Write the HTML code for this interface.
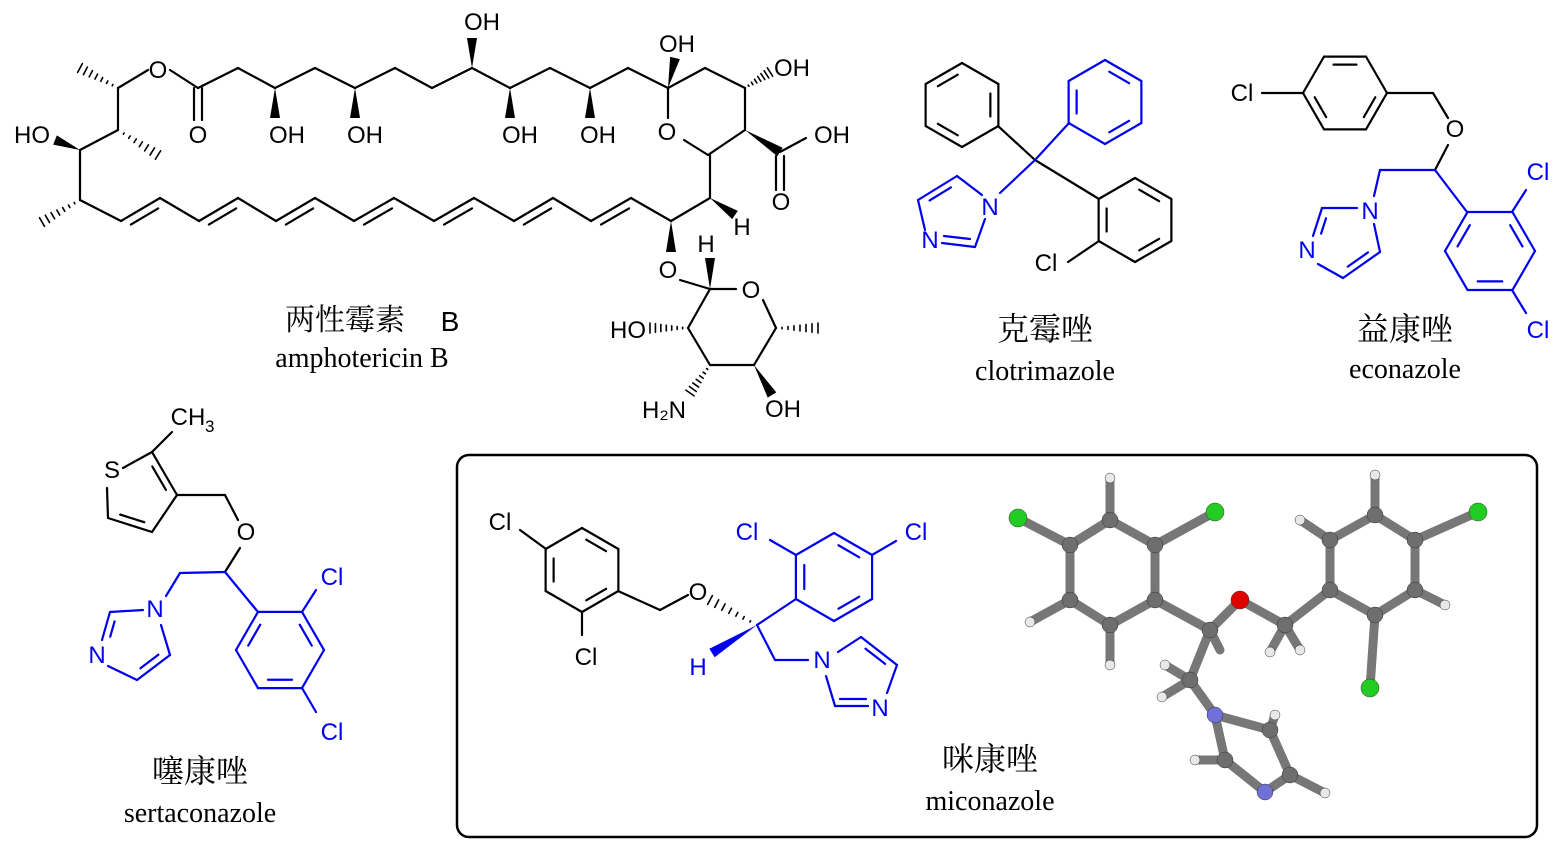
<!DOCTYPE html>
<html><head><meta charset="utf-8"><style>
html,body{margin:0;padding:0;background:#fff}
svg{display:block}
text{font-family:"Liberation Sans","Noto Sans CJK SC",sans-serif}
.s{font-family:"Liberation Serif","Noto Serif CJK SC",serif}
</style></head><body>
<svg id="g" width="1559" height="852" viewBox="0 0 1559 852" xmlns="http://www.w3.org/2000/svg">
<rect x="457" y="455" width="1080" height="382" rx="12" fill="none" stroke="#000" stroke-width="2.5"/>
</svg>
<script>
const svg=document.getElementById('g');const NS='http://www.w3.org/2000/svg';
function el(n,a,t){const e=document.createElementNS(NS,n);for(const k in a)e.setAttribute(k,a[k]);if(t!==undefined)e.textContent=t;svg.appendChild(e);return e;}
const K='#000',B='#0000ee';
function L(x1,y1,x2,y2,c,w){el('line',{x1,y1,x2,y2,stroke:c||K,'stroke-width':w||2.2,'stroke-linecap':'round'});}
function P(pts,c){for(let i=0;i<pts.length-1;i++)L(pts[i][0],pts[i][1],pts[i+1][0],pts[i+1][1],c);}
function T(x,y,s,sz,c,cls){el('text',{x,y,'font-size':sz||24,fill:c||K,'text-anchor':'middle',class:cls||''},s);}
// inner double line toward point (cx,cy)
function DI(a,b,cx,cy,c){const f=0.78,g=0.15;const ax=cx+(a[0]-cx)*f,ay=cy+(a[1]-cy)*f,bx=cx+(b[0]-cx)*f,by=cy+(b[1]-cy)*f;
 L(ax+(bx-ax)*g,ay+(by-ay)*g,bx-(bx-ax)*g,by-(by-ay)*g,c);}
function wedge(x1,y1,x2,y2,c){const dx=x2-x1,dy=y2-y1,l=Math.hypot(dx,dy),nx=-dy/l*5,ny=dx/l*5;
 el('polygon',{points:`${x1},${y1} ${x2+nx},${y2+ny} ${x2-nx},${y2-ny}`,fill:c||K});}
function hash(x1,y1,x2,y2,c){const dx=x2-x1,dy=y2-y1,l=Math.hypot(dx,dy),nx=-dy/l,ny=dx/l;
 for(let i=1;i<=7;i++){const t=i/7,w=5*t;L(x1+dx*t-nx*w,y1+dy*t-ny*w,x1+dx*t+nx*w,y1+dy*t+ny*w,c,1.6);}}
function ring(cx,cy,r,n,rot,c,dbl){const v=[];for(let i=0;i<n;i++){const a=rot+i*2*Math.PI/n;v.push([cx+r*Math.cos(a),cy+r*Math.sin(a)]);}
 for(let i=0;i<n;i++)L(v[i][0],v[i][1],v[(i+1)%n][0],v[(i+1)%n][1],c);
 (dbl||[]).forEach(i=>DI(v[i],v[(i+1)%n],cx,cy,c));return v;}
const PI=Math.PI;
// ===== Amphotericin B =====
P([[118,130],[118,88],[148,70]]);hash(118,88,80,68);T(158,78,'O',24);
P([[170,70],[198,88],[238,68],[275,88],[315,68],[355,88],[395,68],[432,88],[472,68],[510,88],[550,68],[590,88],[628,68],[668,88],[705,68],[745,88],[745,130],[708,155],[684,140]]);
L(668,88,668,118);T(667,140,'O',24);
L(194,88,194,120);L(202,88,202,120);T(198,143,'O',24);
wedge(275,88,275,118);T(287,143,'OH',24);wedge(355,88,355,118);T(365,143,'OH',24);
wedge(472,68,472,38);T(482,30,'OH',24);wedge(510,88,510,118);T(520,143,'OH',24);wedge(590,88,590,118);T(598,143,'OH',24);
wedge(668,88,675,58);T(677,52,'OH',24);hash(745,88,770,72);T(792,76,'OH',24);
wedge(745,130,780,152);P([[780,152],[806,138]]);T(832,143,'OH',24);L(776,156,776,190);L(784,156,784,190);T(781,210,'O',24);
T(32,143,'HO',24);wedge(80,150,55,140);P([[80,150],[118,130]]);hash(118,130,158,155);
P([[80,150],[80,200],[121,221]]);hash(80,200,42,222);
let poly=[[121,221],[160,198],[199,221],[238,198],[276,221],[315,198],[354,221],[394,198],[434,221],[474,198],[514,221],[553,198],[591,221],[631,198],[671,221]];
P(poly);for(let i=0;i<14;i+=2){const a=poly[i],b=poly[i+1];const dx=b[0]-a[0],dy=b[1]-a[1];L(a[0]+dx*.15+4,a[1]+dy*.15+7,b[0]-dx*.15+4,b[1]-dy*.15+7);}
P([[671,221],[710,198],[710,155]]);wedge(710,198,735,215);T(742,235,'H',24);
wedge(671,221,671,252);T(668,278,'O',24);P([[680,280],[710,289],[736,289]]);wedge(710,289,710,258);T(706,252,'H',24);
T(751,298,'O',24);P([[763,300],[776,328],[754,365],[710,365],[688,328],[710,289]]);hash(776,328,818,328);
hash(688,328,650,328);T(628,338,'HO',24);wedge(754,365,772,395);T(783,417,'OH',24);hash(710,365,690,393);T(664,418,'H₂N',24);
T(345,330,'两性霉素',30,K,'s');T(450,331,'B',28);T(362,367,'amphotericin B',28,K,'s');
// ===== Clotrimazole =====
ring(962,105,42,6,PI/6,K,[1,3,5]);ring(1105,102,42,6,PI/6,B,[0,2,4]);ring(1135,220,42,6,PI/6,K,[0,2,4]);
L(998,126,1035,160);L(1035,160,1069,123,B);L(1035,160,1099,199);L(1035,160,1000,193,B);
T(990,215,'N',24,B);
{const c=[950,215];L(982,195,957,176,B);L(957,176,918,200,B);DI([957,176],[918,200],c[0],c[1],B);L(918,200,925,230,B);
 T(930,248,'N',24,B);L(942,243,975,247,B);L(944,236,970,239,B);L(975,247,985,219,B);}
L(1099,241,1068,262);T(1046,271,'Cl',24);
T(1045,340,'克霉唑',32,K,'s');T(1045,380,'clotrimazole',28,K,'s');
// ===== Econazole =====
ring(1345,93,42,6,0,K,[0,2,4]);T(1242,101,'Cl',24);L(1262,93,1303,93);
P([[1387,93],[1433,93],[1448,118]]);T(1455,137,'O',24);P([[1448,145],[1435,170]]);P([[1435,170],[1380,170],[1374,196]],B);
T(1370,219,'N',24,B);
{const c=[1345,240];L(1357,208,1322,208,B);L(1322,208,1313,236,B);DI([1322,208],[1313,236],c[0],c[1],B);T(1307,258,'N',24,B);
 L(1318,264,1343,278,B);L(1343,278,1380,252,B);DI([1343,278],[1380,252],c[0],c[1],B);L(1380,252,1374,224,B);}
P([[1435,170],[1467,212]],B);ring(1490,251,45,6,0,B,[1,3,5]);
T(1538,180,'Cl',24,B);L(1512,212,1526,190,B);T(1538,338,'Cl',24,B);L(1512,290,1526,313,B);
T(1405,340,'益康唑',32,K,'s');T(1405,378,'econazole',28,K,'s');
// ===== Sertaconazole =====
T(188,425,'CH',24);el('text',{x:205,y:432,'font-size':17},'3');L(152,452,172,432);
T(112,478,'S',24);
{const c=[140,495];L(123,468,152,452);L(152,452,177,495);DI([152,452],[177,495],c[0],c[1]);L(177,495,152,532);L(152,532,108,518);DI([152,532],[108,518],c[0],c[1]);L(108,518,107,488);}
P([[177,495],[225,495],[238,520]]);T(246,540,'O',24);P([[240,548],[225,572]]);P([[225,572],[180,573],[166,596]],B);
T(155,617,'N',24,B);
{const c=[135,640];L(143,610,110,612,B);L(110,612,102,640,B);DI([110,612],[102,640],c[0],c[1],B);T(97,663,'N',24,B);
 L(108,666,137,680,B);L(137,680,170,655,B);DI([137,680],[170,655],c[0],c[1],B);L(170,655,161,625,B);}
P([[225,572],[258,612]],B);ring(280,650,44,6,0,B,[1,3,5]);T(332,585,'Cl',24,B);L(302,612,316,590,B);T(332,740,'Cl',24,B);L(302,688,316,712,B);
T(200,782,'噻康唑',32,K,'s');T(200,822,'sertaconazole',28,K,'s');
// ===== Miconazole 2D =====
ring(582,570,42,6,PI/6,K,[0,2,4]);T(500,530,'Cl',24);L(520,530,546,549);T(586,665,'Cl',24);L(582,612,582,635);
P([[618,591],[660,610],[688,595]]);T(698,600,'O',24);hash(757,625,710,600);
P([[757,625],[796,599]],B);ring(834,577,44,6,PI/6,B,[0,2,4]);
T(747,540,'Cl',24,B);L(796,555,770,540,B);T(916,540,'Cl',24,B);L(872,555,896,541,B);
wedge(757,625,712,653,B);T(698,675,'H',24,B);P([[757,625],[775,660],[808,660]],B);T(822,668,'N',24,B);
{const c=[862,675];L(838,652,861,637,B);L(861,637,897,665,B);DI([861,637],[897,665],c[0],c[1],B);L(897,665,887,693,B);
 T(880,716,'N',24,B);L(868,706,835,706,B);L(866,699,840,699,B);L(835,706,826,676,B);}
T(990,770,'咪康唑',32,K,'s');T(990,810,'miconazole',28,K,'s');
// ===== 3D model =====
const G='#6e6e6e';
function st(a,b){el('line',{x1:a[0],y1:a[1],x2:b[0],y2:b[1],stroke:'#777','stroke-width':9,'stroke-linecap':'round'});}
function ball(p,r,c){el('circle',{cx:p[0],cy:p[1],r,fill:c,stroke:'#333','stroke-width':0.5});}
const r1=[[1070,545],[1110,520],[1155,545],[1155,600],[1110,625],[1070,600]];
const r2=[[1330,540],[1375,515],[1415,540],[1415,590],[1375,615],[1330,590]];
const C=[1210,630],O=[1240,600],CH=[1285,625],C2=[1190,680],N=[1215,715],im=[[1215,715],[1270,730],[1290,775],[1265,792],[1225,760]];
const bonds=[];for(let i=0;i<6;i++){bonds.push([r1[i],r1[(i+1)%6]]);bonds.push([r2[i],r2[(i+1)%6]]);}
for(let i=0;i<5;i++)bonds.push([im[i],im[(i+1)%5]]);
const Cls=[[1018,518],[1215,512],[1478,512],[1370,688]];
const Hs=[[1110,478],[1030,622],[1110,665],[1270,652],[1300,650],[1375,475],[1300,520],[1445,605],[1162,697],[1165,665],[1275,715],[1325,793],[1195,760]];
bonds.push([r1[3],C],[C,O],[O,CH],[CH,r2[5]],[C,C2],[C2,N],[r1[0],Cls[0]],[r1[2],Cls[1]],[r2[2],Cls[2]],[r2[4],Cls[3]],
[r1[1],Hs[0]],[r1[5],Hs[1]],[r1[4],Hs[2]],[CH,Hs[3]],[CH,Hs[4]],[r2[1],Hs[5]],[r2[0],Hs[6]],[r2[3],Hs[7]],[C2,Hs[8]],[C2,Hs[9]],[im[1],Hs[10]],[im[2],Hs[11]],[im[4],Hs[12]],[C,[1220,650]]);
bonds.forEach(b=>st(b[0],b[1]));
[...r1,...r2,C,CH,C2,im[1],im[2],im[4]].forEach(p=>ball(p,8,G));
ball(O,9,'#e00000');ball(N,8,'#7070d8');ball(im[3],8,'#7070d8');
Cls.forEach(p=>ball(p,9,'#22cc22'));Hs.forEach(p=>ball(p,5,'#e8e8e8'));
</script>
</body></html>
